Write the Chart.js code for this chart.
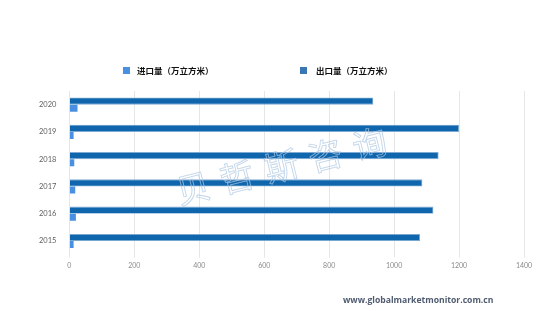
<!DOCTYPE html>
<html>
<head>
<meta charset="utf-8">
<script src="https://cdn.jsdelivr.net/npm/chart.js@4/dist/chart.umd.min.js"></script>
<style>
  html, body { margin: 0; padding: 0; background: #fff; }
  #wrap { width: 554px; height: 311px; position: relative; }
</style>
</head>
<body>
<div id="wrap"><canvas id="chart"></canvas></div>
<script>
// ── Data ─────────────────────────────────────────────────────────────────────
const years       = ['2020', '2019', '2018', '2017', '2016', '2015'];
const exportVals  = [936, 1200, 1137, 1087, 1121, 1080];
const importVals  = [25, 13, 15, 18, 20, 13];
const seriesNames = ['出口量（万立方米）', '进口量（万立方米）'];
const xTicks      = [0, 200, 400, 600, 800, 1000, 1200, 1400];
const watermark   = '贝哲斯咨询';
const siteText    = 'www.globalmarketmonitor.com.cn';

const DARK  = '#0f66ad';
const LIGHT = '#4a90e2';

// ── Legend (drawn by hand: items sit far apart) ─────────────────────────────
const legendPlugin = {
  id: 'wideLegend',
  afterDraw(chart) {
    const ctx = chart.ctx;
    const items = [
      { name: seriesNames[1], color: LIGHT, box: 123, text: 137 },
      { name: seriesNames[0], color: '#3a76b4', box: 300, text: 316 },
    ];
    ctx.save();
    ctx.font = 'bold 8.5px "Noto Sans CJK SC"';
    ctx.textBaseline = 'middle';
    items.forEach(it => {
      ctx.fillStyle = it.color;
      ctx.fillRect(it.box, 67, 7, 7);
      ctx.fillStyle = '#111';
      ctx.fillText(it.name, it.text, 71);
    });
    ctx.restore();
  },
};

// ── Watermark + site text ───────────────────────────────────────────────────
const decoPlugin = {
  id: 'deco',
  afterDatasetsDraw(chart) {
    const ctx = chart.ctx;
    ctx.save();
    ctx.font = '34px "Noto Sans CJK SC"';
    ctx.textAlign = 'center';
    ctx.textBaseline = 'middle';
    ctx.strokeStyle = 'rgba(175,200,225,0.75)';
    ctx.lineWidth = 0.9;
    const ang = -14 * Math.PI / 180;
    const x0 = 193, y0 = 188, step = 45.5;
    [...watermark].forEach((ch, i) => {
      ctx.save();
      ctx.translate(x0 + i * step * Math.cos(ang), y0 + i * step * Math.sin(ang));
      ctx.rotate(ang);
      ctx.strokeText(ch, 0, 0);
      ctx.restore();
    });
    ctx.restore();
  },
  afterDraw(chart) {
    const ctx = chart.ctx;
    ctx.save();
    ctx.font = 'bold 8.6px "Open Sans"';
    ctx.fillStyle = '#4f5b70';
    ctx.textBaseline = 'middle';
    ctx.fillText(siteText, 343, 301);
    ctx.restore();
  },
};

// ── Chart ────────────────────────────────────────────────────────────────────
new Chart(document.getElementById('chart'), {
  type: 'bar',
  data: {
    labels: years,
    datasets: [
      {
        label: seriesNames[0],
        data: exportVals,
        backgroundColor: DARK,
        borderColor: '#7eaad4',
        borderWidth: 0.8,
        categoryPercentage: 0.52, barPercentage: 1,
      },
      {
        label: seriesNames[1],
        data: importVals,
        backgroundColor: LIGHT,
        borderWidth: 0,
        categoryPercentage: 0.52, barPercentage: 1,
      },
    ],
  },
  options: {
    indexAxis: 'y',
    responsive: true, maintainAspectRatio: false, animation: false,
    layout: { padding: { top: 91, left: 34, right: 30, bottom: 37 } },
    plugins: { legend: { display: false }, tooltip: { enabled: false } },
    scales: {
      x: {
        min: 0, max: 1400,
        afterBuildTicks: (s) => { s.ticks = xTicks.map(v => ({ value: v })); },
        ticks: { color: '#8a8a8a', font: { family: 'Lato', size: 7 }, padding: 4,
                 callback: (v) => String(v) },
        grid: { color: '#e6e6e6', tickLength: 3 },
        border: { display: false },
      },
      y: {
        ticks: { color: '#5e5e5e', font: { family: 'Lato', size: 7.5 }, padding: 5 },
        grid: { display: false },
        border: { display: false },
      },
    },
  },
  plugins: [legendPlugin, decoPlugin],
});
</script>
</body>
</html>
